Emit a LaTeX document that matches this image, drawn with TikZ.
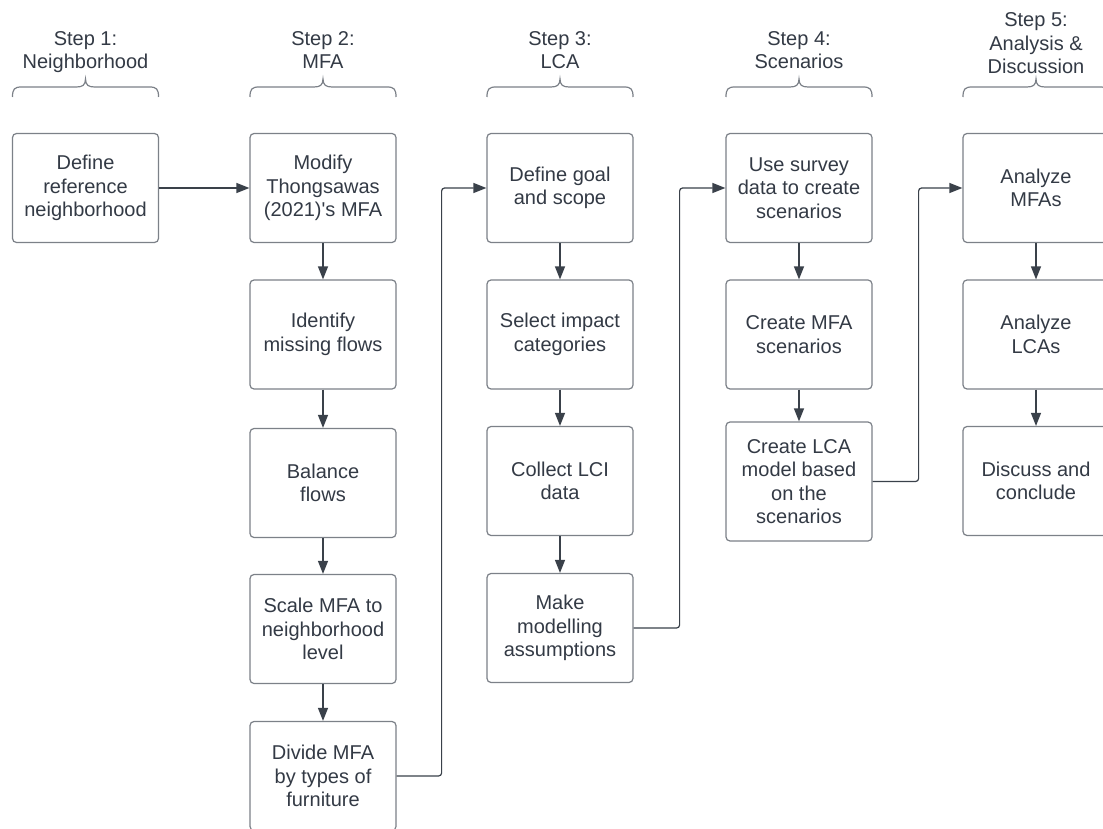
\documentclass[tikz,border=0pt]{standalone}
\usepackage{fontspec}
\setmainfont{Liberation Sans}
\usetikzlibrary{arrows.meta}
\definecolor{txt}{HTML}{333A45}
\definecolor{ln}{HTML}{3A414A}
\definecolor{bd}{HTML}{7C8188}
\begin{document}
\begin{tikzpicture}[x=1pt,y=-1pt,
  box/.style={draw=bd, line width=1.2pt, rounded corners=4pt, minimum width=146pt, minimum height=109pt, align=center, text=txt, font=\fontsize{20}{23.5}\selectfont, inner sep=0pt},
  lbl/.style={anchor=north, align=center, text=txt, font=\fontsize{20}{23.5}\selectfont, inner sep=0pt},
  conn/.style={draw=ln, line width=1.2pt, -{Triangle[length=13pt,width=10pt]}, rounded corners=3pt},
  brc/.style={draw=bd, line width=1.2pt}]
\useasboundingbox (0,0) rectangle (1103,829);
\fill[white] (0,0) rectangle (1103,829);

% step labels
\node[lbl] (s1) at (85.5,31) {Step 1:\\Neighborhood};
\node[lbl] (s2) at (323,31) {Step 2:\\MFA};
\node[lbl] (s3) at (560,31) {Step 3:\\LCA};
\node[lbl] (s4) at (799,31) {Step 4:\\Scenarios};
\node[lbl] (s5) at (1036,12.5) {Step 5:\\Analysis \&\\Discussion};

% braces
\foreach \cx in {85.5,323,560,799,1036}{
  \begin{scope}[shift={(\cx,0)}]
    \draw[brc] (-73,97) .. controls (-73,89) and (-71,87) .. (-64,87) -- (-9,87)
      .. controls (-3,87) and (0,85) .. (0,79)
      .. controls (0,85) and (3,87) .. (9,87) -- (64,87)
      .. controls (71,87) and (73,89) .. (73,97);
  \end{scope}
}

% column 1
\node[box] (b1) at (85.5,188) {Define\\reference\\neighborhood};
% column 2
\node[box] (b2a) at (323,188) {Modify\\Thongsawas\\(2021)\textquotesingle s MFA};
\node[box] (b2b) at (323,334.5) {Identify\\missing flows};
\node[box] (b2c) at (323,483) {Balance\\flows};
\node[box] (b2d) at (323,629) {Scale MFA to\\neighborhood\\level};
\node[box] (b2e) at (323,776) {Divide MFA\\by types of\\furniture};
% column 3
\node[box] (b3a) at (560,188) {Define goal\\and scope};
\node[box] (b3b) at (560,334.5) {Select impact\\categories};
\node[box] (b3c) at (560,481) {Collect LCI\\data};
\node[box] (b3d) at (560,628) {Make\\modelling\\assumptions};
% column 4
\node[box] (b4a) at (799,188) {Use survey\\data to create\\scenarios};
\node[box] (b4b) at (799,334.5) {Create MFA\\scenarios};
\node[box, minimum height=119pt] (b4c) at (799,481.5) {Create LCA\\model based\\on the\\scenarios};
% column 5
\node[box] (b5a) at (1036,188) {Analyze\\MFAs};
\node[box] (b5b) at (1036,334.5) {Analyze\\LCAs};
\node[box] (b5c) at (1036,481) {Discuss and\\conclude};

% connectors
\draw[conn] (b1.east) -- (b2a.west);
\draw[conn] (b2a.south) -- (b2b.north);
\draw[conn] (b2b.south) -- (b2c.north);
\draw[conn] (b2c.south) -- (b2d.north);
\draw[conn] (b2d.south) -- (b2e.north);
\draw[conn] (b2e.east) -- ++(45,0) |- (b3a.west);
\draw[conn] (b3a.south) -- (b3b.north);
\draw[conn] (b3b.south) -- (b3c.north);
\draw[conn] (b3c.south) -- (b3d.north);
\draw[conn] (b3d.east) -- ++(46,0) |- (b4a.west);
\draw[conn] (b4a.south) -- (b4b.north);
\draw[conn] (b4b.south) -- (b4c.north);
\draw[conn] (b4c.east) -- ++(46,0) |- (b5a.west);
\draw[conn] (b5a.south) -- (b5b.north);
\draw[conn] (b5b.south) -- (b5c.north);
\end{tikzpicture}
\end{document}
